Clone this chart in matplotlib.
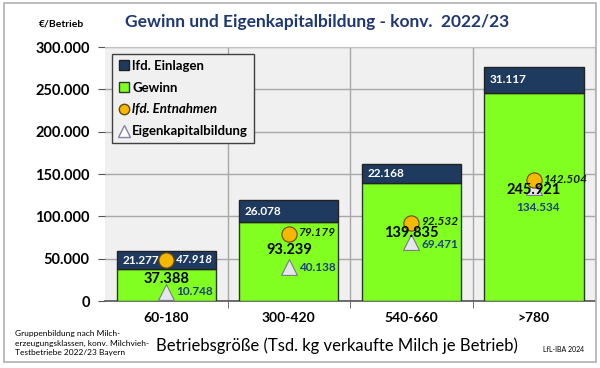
import numpy as np
import matplotlib.pyplot as plt
from matplotlib.patches import Rectangle
from matplotlib.lines import Line2D

plt.rcParams['font.family'] = ['Lato', 'DejaVu Sans']

# data (EUR per Betrieb)
klassen = ['60-180', '300-420', '540-660', '>780']
gewinn = [37388, 93239, 139835, 245921]
einlagen = [21277, 26078, 22168, 31117]
entnahmen = [47918, 79179, 92532, 142504]
ek_bildung = [10748, 40138, 69471, 134534]

def de(v):
    return '{:,}'.format(int(v)).replace(',', '.')

navy = '#1f3a5f'
green = '#80ff20'
title_col = '#1f3872'

fig = plt.figure(figsize=(6, 3.68), dpi=100)
fig.patch.set_facecolor('white')
# outer frame of the chart
fig.add_artist(Rectangle((0.006, 0.016), 0.988, 0.976, transform=fig.transFigure,
                         fill=False, edgecolor='#b0b0b0', lw=1.2))

ax = fig.add_axes([0.175, 0.182, 0.817, 0.69])
ax.set_facecolor('#f0f0f0')
x = np.arange(len(klassen))

ax.bar(x, gewinn, width=0.81, color=green, edgecolor='#2a3a2a', lw=1.0, zorder=3)
ax.bar(x, einlagen, bottom=gewinn, width=0.81, color=navy, edgecolor='#222222', lw=1.0, zorder=3)

ax.scatter(x, entnahmen, s=120, marker='o', color='#f5b800', edgecolor='#6a4a00', lw=0.8, zorder=5)
ax.scatter(x, ek_bildung, s=130, marker='^', color='#e6e6ee', edgecolor='#7a7a8a', lw=0.8, zorder=4)

# label offsets (points)
gew_off = [-13, -11.5, -7.5, -7]
ek_off = [(7, 0), (7, 0), (7, -1.5), (-13, -15)]
for i in x:
    ax.text(i - 0.36, gewinn[i] + einlagen[i] / 2, de(einlagen[i]), color='white',
            fontsize=8.5, fontweight='bold', va='center', ha='left', zorder=6)
    ax.annotate(de(entnahmen[i]), (i, entnahmen[i]), xytext=(7, 1), textcoords='offset points',
                fontsize=8.5, fontweight='bold', style='italic', va='center', ha='left',
                color='white' if i == 0 else '#1a1a1a', zorder=6)
    ax.annotate(de(gewinn[i]), (i, entnahmen[i]), xytext=(0, gew_off[i]), textcoords='offset points',
                fontsize=10.5, fontweight='bold', va='center', ha='center', color='black', zorder=6)
    ax.annotate(de(ek_bildung[i]), (i, ek_bildung[i]), xytext=ek_off[i], textcoords='offset points',
                fontsize=8.5, fontweight='bold', va='center', ha='left', color='#1f3f7f', zorder=6)

ax.set_xlim(-0.5, 3.5)
ax.set_ylim(0, 300000)
ax.set_yticks(np.arange(0, 300001, 50000))
ax.set_yticklabels([de(v) for v in np.arange(0, 300001, 50000)], fontsize=10.5, fontweight='bold')
ax.set_xticks(x)
ax.set_xticklabels(klassen, fontsize=10, fontweight='bold')
ax.set_xticks([0.5, 1.5, 2.5], minor=True)
ax.tick_params(axis='x', which='major', length=0, pad=8)
ax.tick_params(axis='x', which='minor', length=5, color='#555555', direction='out')
ax.tick_params(axis='y', length=5, color='#555555', pad=6)
ax.grid(axis='y', color='#a8a8a8', lw=1.0, zorder=0)
ax.grid(axis='x', which='minor', color='#a8a8a8', lw=1.0, zorder=0)
ax.set_axisbelow(True)
for s in ['top', 'right']:
    ax.spines[s].set_color('#c0c0c0')
ax.spines['left'].set_visible(False)
ax.spines['bottom'].set_color('#555555')
ax.spines['bottom'].set_lw(1.2)

handles = [
    Line2D([], [], ls='', marker='s', ms=6.5, mfc=navy, mec='#222222'),
    Line2D([], [], ls='', marker='s', ms=6.5, mfc=green, mec='#2a3a2a'),
    Line2D([], [], ls='', marker='o', ms=7.5, mfc='#f5b800', mec='#6a4a00'),
    Line2D([], [], ls='', marker='^', ms=8.5, mfc='white', mec='#8a80a8'),
]
leg = ax.legend(handles, ['lfd. Einlagen', 'Gewinn', 'lfd. Entnahmen', 'Eigenkapitalbildung'],
                loc='upper left', bbox_to_anchor=(0.0, 1.0), fontsize=9.5, frameon=True,
                fancybox=False, edgecolor='#404040', facecolor='#f0f0f0', framealpha=1,
                handletextpad=0.1, handlelength=1.0, labelspacing=0.75, borderpad=0.45)
leg.get_frame().set_linewidth(1.0)
for t in leg.get_texts():
    t.set_fontweight('bold')
leg.get_texts()[2].set_style('italic')
leg.set_zorder(10)

fig.text(0.528, 0.94, 'Gewinn und Eigenkapitalbildung - konv.  2022/23', ha='center', va='center',
         fontsize=12.5, fontweight='bold', color=title_col)
fig.text(0.103, 0.935, '€/Betrieb', ha='center', va='center', fontsize=7.5, fontweight='bold')
fig.text(0.562, 0.06, 'Betriebsgröße (Tsd. kg verkaufte Milch je Betrieb)', ha='center',
         va='center', fontsize=12)
fig.text(0.025, 0.068, 'Gruppenbildung nach Milch-\nerzeugungsklassen, konv. Milchvieh-\nTestbetriebe 2022/23 Bayern',
         ha='left', va='center', fontsize=6, linespacing=1.4)
fig.text(0.905, 0.05, 'LfL-IBA 2024', ha='left', va='center', fontsize=5)

fig.savefig('out.png', dpi=100)
